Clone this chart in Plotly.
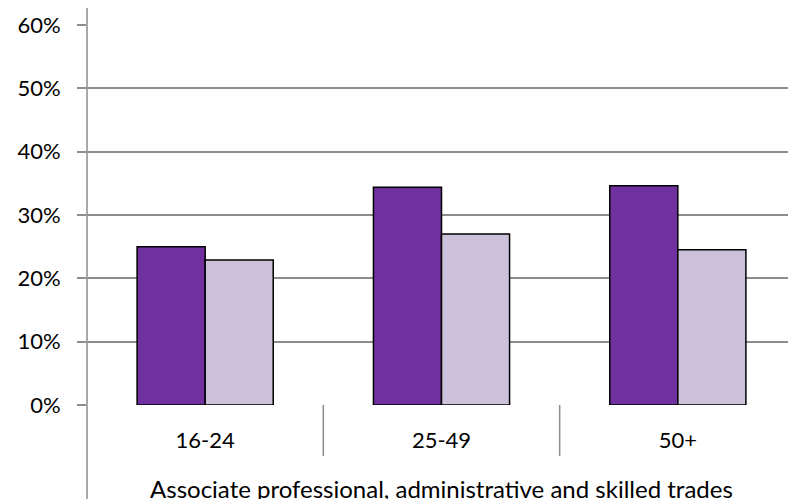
import plotly.graph_objects as go

categories = ["16-24", "25-49", "50+"]
series_a = [0.250, 0.344, 0.346]
series_b = [0.229, 0.270, 0.245]
group_label = "Associate professional, administrative and skilled trades"
y_ticks = [0, 0.1, 0.2, 0.3, 0.4, 0.5, 0.6]
y_tick_text = ["0%", "10%", "20%", "30%", "40%", "50%", "60%"]

FONT = "Lato, Carlito, Calibri, sans-serif"
GRID = "#8c8c8c"

fig = go.Figure()
fig.add_trace(go.Bar(x=categories, y=series_a, marker=dict(color="#7030A0", line=dict(color="black", width=1.5)), showlegend=False))
fig.add_trace(go.Bar(x=categories, y=series_b, marker=dict(color="#CCC1DA", line=dict(color="black", width=1.5)), showlegend=False))

H_PLOT = 380
def py(px_below_zero):
    return -px_below_zero / H_PLOT

# category separators
for xv in [0.5, 1.5]:
    fig.add_shape(type="line", xref="x", yref="paper", x0=xv, x1=xv, y0=0, y1=py(51),
                  line=dict(color=GRID, width=1.5))
# y-axis line
fig.add_shape(type="line", xref="paper", yref="paper", x0=0, x1=0, y0=py(100), y1=410 / H_PLOT,
              line=dict(color=GRID, width=1.5))

fig.add_annotation(text=group_label, xref="paper", yref="paper", x=0.5, y=py(67),
                   xanchor="center", yanchor="top", showarrow=False,
                   font=dict(family=FONT, size=24, color="black"))

fig.update_layout(
    template="none",
    width=788, height=491,
    margin=dict(l=79, r=0, t=17, b=94, autoexpand=False),
    paper_bgcolor="white", plot_bgcolor="white",
    barmode="group", bargap=0.424, bargroupgap=0,
    font=dict(family=FONT, size=22, color="black"),
    xaxis=dict(range=[-0.5, 2.5], showgrid=False, zeroline=False, showline=False, automargin=False,
               ticks="", tickfont=dict(size=22), ticklabelstandoff=20),
    yaxis=dict(range=[0, 0.6], tickvals=y_ticks, ticktext=y_tick_text, automargin=False,
               showgrid=True, gridcolor=GRID, gridwidth=1.5, zeroline=False, showline=False,
               ticks="outside", ticklen=9, tickcolor=GRID, tickwidth=1.5,
               ticklabelstandoff=12, tickfont=dict(size=22)),
)

fig.write_html("out.html")
